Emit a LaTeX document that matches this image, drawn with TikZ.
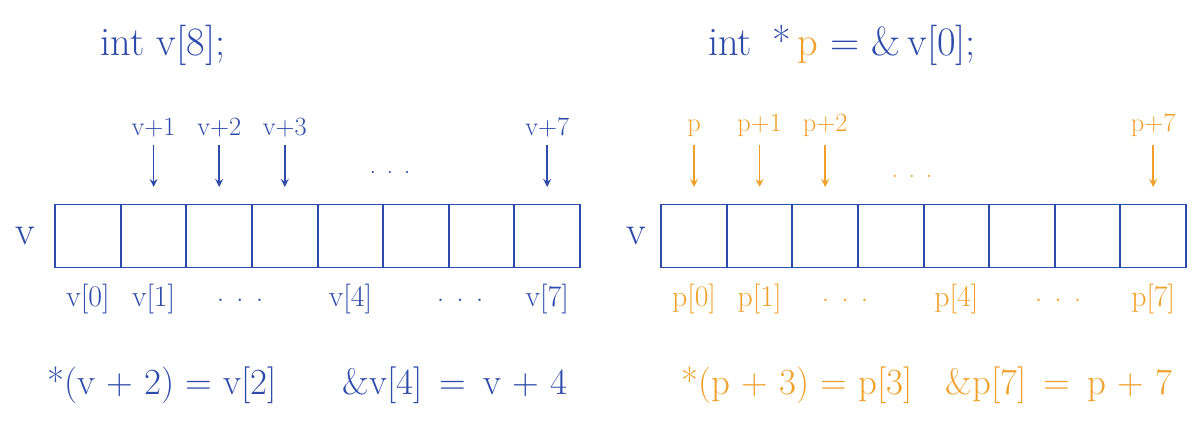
\documentclass[tikz,border=0pt]{standalone}
\usetikzlibrary{positioning}
\definecolor{penblue}{RGB}{45,75,170}
\definecolor{penorange}{RGB}{240,160,40}
\begin{document}
\begin{tikzpicture}[x=0.02cm,y=-0.02cm,>=stealth,line width=1pt,
  every node/.style={inner sep=1pt},
  cell/.style={draw=penblue,minimum width=1.31cm,minimum height=1.26cm,inner sep=0pt,outer sep=0pt},
  code/.style={font=\fontsize{23}{26}\selectfont},
  ptr/.style={font=\fontsize{15}{17}\selectfont},
  idx/.style={font=\fontsize{17}{19}\selectfont},
  eqn/.style={font=\fontsize{21}{24}\selectfont}]
  \useasboundingbox (0,0) rectangle (1197,425);
  % declarations
  \node[code,text=penblue] (declv) at (163,45) {int v[8];};
  \node[code,text=penblue] (declp) at (842,45) {int\enspace *\,\textcolor{penorange}{p} = \&\,v[0];};
  % the two arrays
  \foreach \i in {0,...,7} {
    \node[cell] (v\i) at (88+65.6*\i,236) {};
    \node[cell] (p\i) at (694+65.6*\i,236) {};
  }
  \node[code,text=penblue,left=0.35cm of v0] (vname) {v};
  \node[code,text=penblue,left=0.25cm of p0] (pname) {v};
  % pointers into v
  \foreach \i in {1,2,3,7} {
    \node[ptr,text=penblue,above=1.3cm of v\i] (vt\i) {v+\i};
    \draw[->,penblue,shorten <=3pt,shorten >=10pt] (vt\i) -- (v\i);
  }
  \node[ptr,text=penblue] (vdots) at (390,172) {. . .};
  % pointers into p
  \node[ptr,text=penorange,above=1.3cm of p0] (pt0) {p};
  \draw[->,penorange,shorten <=3pt,shorten >=10pt] (pt0) -- (p0);
  \foreach \i in {1,2,7} {
    \node[ptr,text=penorange,above=1.3cm of p\i] (pt\i) {p+\i};
    \draw[->,penorange,shorten <=3pt,shorten >=10pt] (pt\i) -- (p\i);
  }
  \node[ptr,text=penorange] (pdots) at (912,176) {. . .};
  % element names
  \foreach \i in {0,1,4,7} {
    \node[idx,text=penblue,below=0.28cm of v\i] (vb\i) {v[\i]};
    \node[idx,text=penorange,below=0.28cm of p\i] (pb\i) {p[\i]};
  }
  \node[idx,text=penblue] (vbdots1) at (240,300) {. . .};
  \node[idx,text=penblue] (vbdots2) at (460,300) {. . .};
  \node[idx,text=penorange] (pbdots1) at (845,300) {. . .};
  \node[idx,text=penorange] (pbdots2) at (1058,300) {. . .};
  % identities
  \node[eqn,text=penblue] (veqa) at (162,385) {*(v + 2) = v[2]};
  \node[eqn,text=penblue] (veqb) at (455,385) {\&v[4]\, = \,v + 4};
  \node[eqn,text=penorange] (peqa) at (797,385) {*(p + 3) = p[3]};
  \node[eqn,text=penorange] (peqb) at (1059,385) {\&p[7]\, = \,p + 7};
\end{tikzpicture}
\end{document}
